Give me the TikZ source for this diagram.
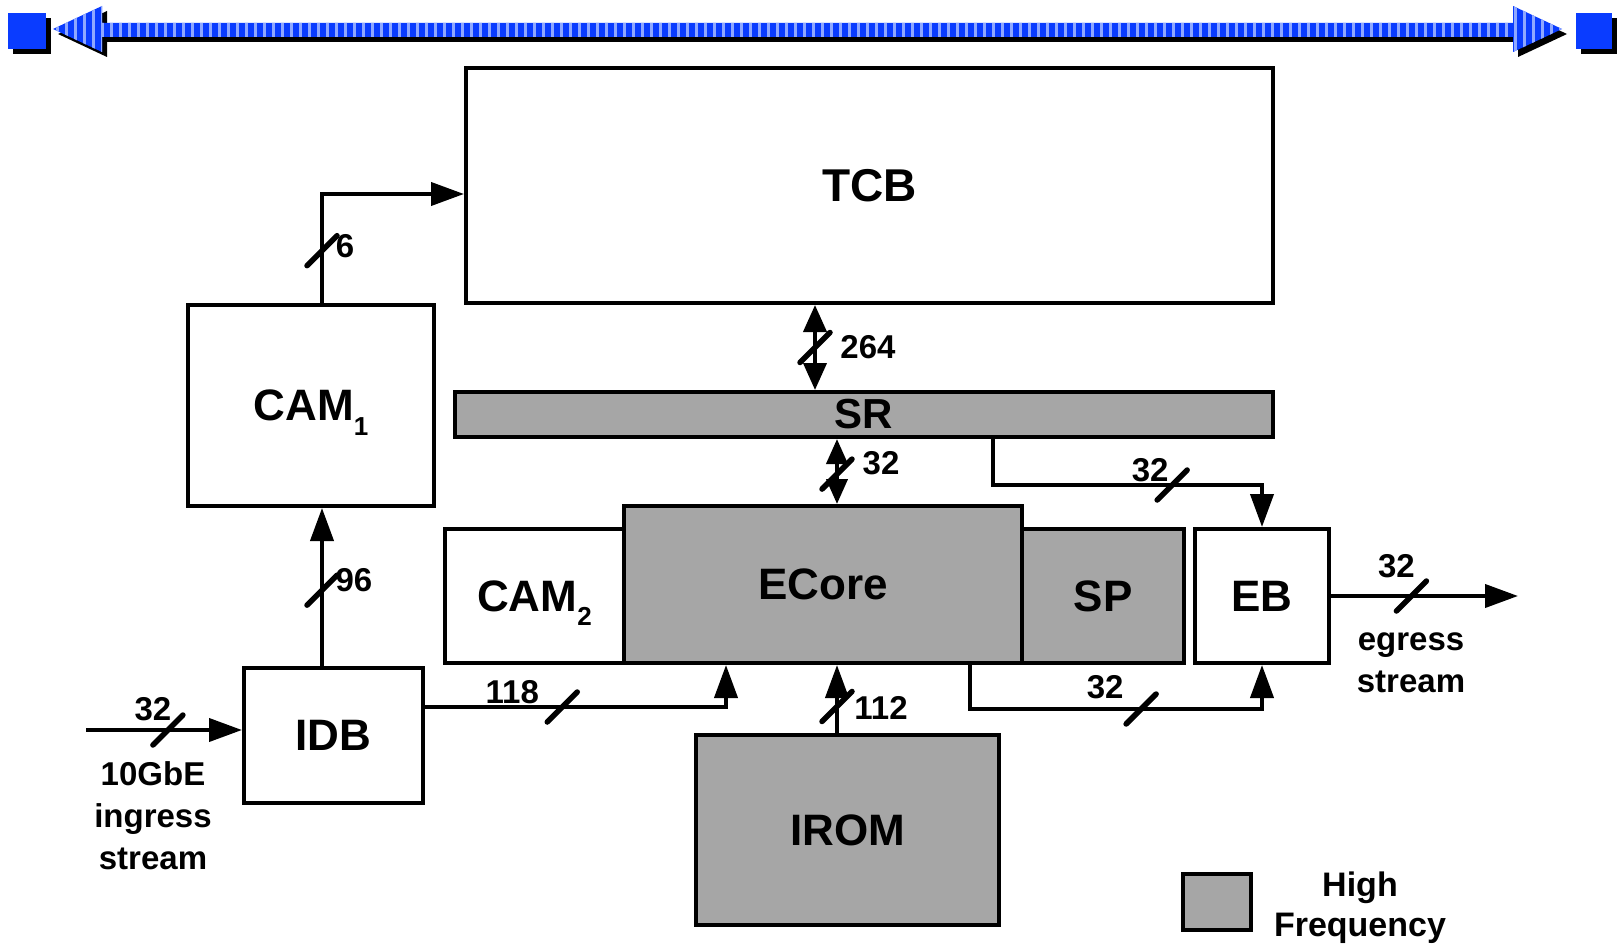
\documentclass[tikz,border=0pt]{standalone}
\usepackage{fontspec}
\setmainfont{Liberation Sans}
\usetikzlibrary{positioning,arrows.meta,calc}

\definecolor{hfgray}{HTML}{A6A6A6}
\definecolor{barblue}{HTML}{0A3CFF}
\definecolor{barstripe}{HTML}{8FA8FF}
\newcommand{\boxfont}{\fontsize{44}{48}\selectfont\bfseries}
\newcommand{\tcbfont}{\fontsize{46}{50}\selectfont\bfseries}
\newcommand{\srfont}{\fontsize{42}{46}\selectfont\bfseries}
\newcommand{\wdfont}{\fontsize{33}{36}\selectfont\bfseries}
\newcommand{\notefont}{\fontsize{33}{42}\selectfont\bfseries}
\newcommand{\keyfont}{\fontsize{34}{40}\selectfont\bfseries}
\newcommand{\camidx}[1]{\smash{\raisebox{-0.33em}{\fontsize{26}{26}\selectfont #1}}}

\begin{document}
\begin{tikzpicture}[
  x=1pt, y=-1pt,
  block/.style={draw, line width=4pt, fill=white, inner sep=0pt, font=\boxfont},
  hf/.style={block, fill=hfgray},
  >={Triangle[length=33pt,width=23pt]},
  wire/.style={line width=4pt, ->},
  bidir/.style={line width=4pt, {Triangle[length=27pt,width=23pt]}-{Triangle[length=27pt,width=23pt]}},
  bidirs/.style={line width=4pt, {Triangle[length=25pt,width=21pt]}-{Triangle[length=25pt,width=21pt]}},
  wd/.style={font=\wdfont, inner sep=0pt},
  note/.style={font=\notefont, align=center, inner sep=0pt},
  bus/.pic={\draw[-, line width=5.5pt, line cap=round] (-15,15) -- (15,-15);}]
\useasboundingbox (0,0) rectangle (1622,944);

% top bar
\foreach \s/\c in {5/black, 0/barblue} {
  \fill[\c, shift={(\s,\s)}] (53,29) -- (102,6) -- (102,23) -- (1513,23) -- (1513,6) -- (1562,29)
    -- (1513,52) -- (1513,37) -- (102,37) -- (102,52) -- cycle;
  \fill[\c, shift={(\s,\s)}] (8,13) rectangle (46,49);
  \fill[\c, shift={(\s,\s)}] (1576,13) rectangle (1612,49);
}
\begin{scope}
  \clip (53,29) -- (102,6) -- (102,23) -- (1513,23) -- (1513,6) -- (1562,29)
    -- (1513,52) -- (1513,37) -- (102,37) -- (102,52) -- cycle;
  \foreach \x in {56,65,...,1560} \fill[barstripe] (\x,0) rectangle ++(3,60);
\end{scope}

% blocks
\node[block, minimum width=807pt, minimum height=235pt, font=\tcbfont] (tcb) at (869.5,185.5) {TCB};
\node[hf, minimum width=818pt, minimum height=45pt, font=\srfont] (sr) at (864,414.5) {SR};
\node[block, minimum width=246pt, minimum height=201pt] (cam1) at (311,405.5) {CAM\camidx{1}};
\node[block, minimum width=179pt, minimum height=135pt] (idb) at (333.5,735.5) {IDB};
\node[block, minimum width=179pt, minimum height=134pt] (cam2) at (534.5,596) {CAM\camidx{2}};
\node[hf, minimum width=162pt, minimum height=134pt] (sp) at (1103,596) {SP};
\node[hf, minimum width=398pt, minimum height=157pt] (ecore) at (823,584.5) {ECore};
\node[block, minimum width=134pt, minimum height=134pt] (eb) at (1262,596) {EB};
\node[hf, minimum width=303pt, minimum height=190pt] (irom) at (847.5,830) {IROM};
\node[hf, minimum width=68pt, minimum height=56pt] (key) at (1217,902) {};
\node[note, font=\keyfont] (keytxt) at (1360,908) {High\\Frequency};

% buses
\draw[wire] ([xshift=11pt]cam1.north) |- pic[pos=.24]{bus} node[wd, pos=.24, xshift=23pt, yshift=5pt]{6} ([yshift=-8.5pt]tcb.west);
\draw[wire] ([xshift=-11.5pt]idb.north) -- pic[pos=.48]{bus} node[wd, pos=.48, xshift=32pt, yshift=10pt]{96} ([xshift=-11.5pt]idb.north |- cam1.south);
\coordinate (gbe) at (86,730);
\draw[wire] (gbe) -- pic[pos=.525]{bus} node[wd, pos=.525, xshift=-15pt, yshift=21pt]{32} (gbe -| idb.west);
\node[note] (gbetxt) at (153,816) {10GbE\\ingress\\stream};
\draw[wire] ([yshift=28.5pt]idb.east) -| pic[pos=.228]{bus} node[wd, pos=.228, xshift=-50pt, yshift=15pt]{118} ([xshift=-97pt]ecore.south);
\draw[bidir] ([xshift=-54.5pt]tcb.south) -- pic[pos=.5]{bus} node[wd, pos=.5, xshift=53pt]{264} ([xshift=-54.5pt]tcb.south |- sr.north);
\draw[bidirs] ([xshift=-27pt]sr.south) -- pic[pos=.54]{bus} node[wd, pos=.54, xshift=44pt, yshift=11pt]{32} ([xshift=-27pt]sr.south |- ecore.north);
\draw[wire] ([xshift=-10.5pt]irom.north) -- pic[pos=.39]{bus} node[wd, pos=.39, xshift=44pt, yshift=-1pt]{112} ([xshift=-10.5pt]irom.north |- ecore.south);
\draw[wire] ([xshift=129pt]sr.south) -- ++(0,46) -| pic[pos=.333]{bus} node[wd, pos=.333, xshift=-22pt, yshift=15pt]{32} (eb.north);
\draw[wire] ([xshift=147pt]ecore.south) -- ++(0,44) -| pic[pos=.293]{bus} node[wd, pos=.293, xshift=-36pt, yshift=22pt]{32} (eb.south);
\coordinate (egr) at (1518,596);
\draw[wire] (eb.east) -- pic[pos=.43]{bus} node[wd, pos=.43, xshift=-15pt, yshift=30pt]{32} (egr);
\node[note] (egrtxt) at (1411,663) {egress\\stream};
\end{tikzpicture}
\end{document}
